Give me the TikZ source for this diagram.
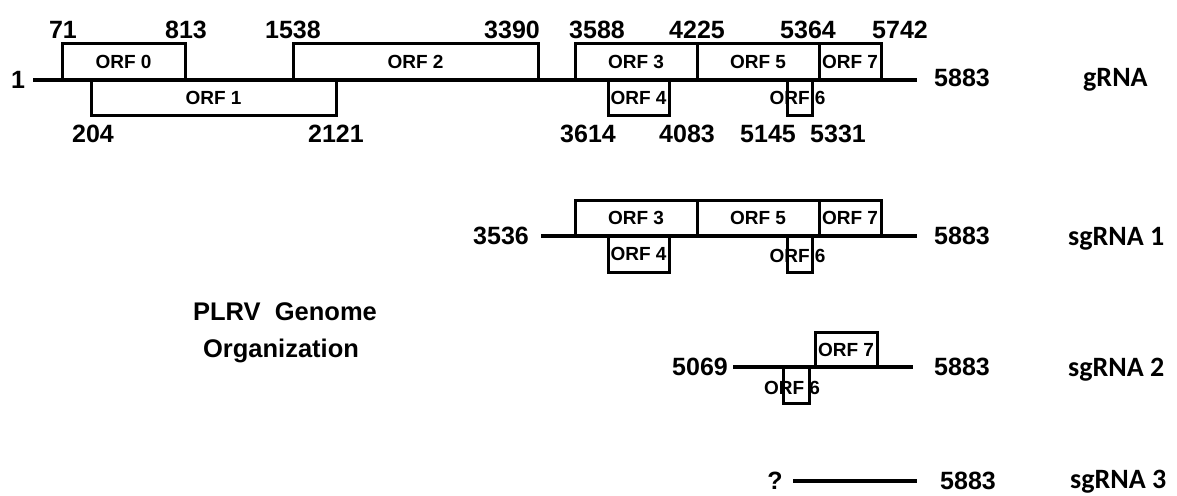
\documentclass[tikz,border=0pt]{standalone}
\usepackage{fontspec}
\setmainfont{Liberation Sans}
\newfontfamily\calibrifont{Carlito}

\begin{document}
\begin{tikzpicture}[x=1pt, y=-1pt,
    rna/.style={line width=3.2pt},
    orfbox/.style={draw, line width=3pt, inner sep=0pt, font=\fontsize{19}{19}\selectfont\bfseries},
    orflabel/.style={inner sep=0pt, font=\fontsize{19}{19}\selectfont\bfseries},
    posnum/.style={inner sep=0pt, font=\fontsize{25}{25}\selectfont\bfseries},
    rnaname/.style={inner sep=0pt, anchor=base west, font=\fontsize{28}{28}\selectfont\calibrifont\bfseries},
    title/.style={inner sep=0pt, font=\fontsize{25.5}{25.5}\selectfont\bfseries}]
    \useasboundingbox (0,0) rectangle (1177,495);

    % gRNA
    \coordinate (g0) at (33,80);
    \coordinate (g1) at (917,80);
    \draw[rna] (g0) -- (g1);
    \node[orfbox, minimum width=123pt, minimum height=36pt] (gorf0) at (123.5,62) {ORF 0};
    \node[orfbox, minimum width=245pt, minimum height=36pt] (gorf2) at (415.5,62) {ORF 2};
    \node[orfbox, minimum width=122pt, minimum height=36pt] (gorf3) at (636,62) {ORF 3};
    \node[orfbox, minimum width=122pt, minimum height=36pt] (gorf5) at (758,62) {ORF 5};
    \node[orfbox, minimum width=62pt, minimum height=36pt] (gorf7) at (850,62) {ORF 7};
    \node[orfbox, minimum width=245pt, minimum height=35pt] (gorf1) at (213.5,97.5) {ORF 1};
    \node[orfbox, minimum width=61pt, minimum height=35pt] (gorf4) at (638.5,97.5) {ORF 4};
    \node[orfbox, minimum width=25pt, minimum height=35pt,
        label={[orflabel, xshift=-2pt]center:ORF 6}] (gorf6) at (799.5,97.5) {};
    \node[posnum] (gstart) at (18,80) {1};
    \node[posnum] (gend) at (962,78) {5883};
    \node[rnaname] (gname) at (1083,86) {gRNA};
    % start and end positions
    \node[posnum] (p71) at (63,30) {71};
    \node[posnum] (p813) at (186,30) {813};
    \node[posnum] (p1538) at (293,30) {1538};
    \node[posnum] (p3390) at (512,30) {3390};
    \node[posnum] (p3588) at (597,30) {3588};
    \node[posnum] (p4225) at (697,30) {4225};
    \node[posnum] (p5364) at (808,30) {5364};
    \node[posnum] (p5742) at (900,30) {5742};
    \node[posnum] (p204) at (93,134) {204};
    \node[posnum] (p2121) at (336,134) {2121};
    \node[posnum] (p3614) at (588,134) {3614};
    \node[posnum] (p4083) at (687,134) {4083};
    \node[posnum] (p5145) at (768,134) {5145};
    \node[posnum] (p5331) at (838,134) {5331};

    % sgRNA 1
    \coordinate (s10) at (541,236);
    \coordinate (s11) at (917,236);
    \draw[rna] (s10) -- (s11);
    \node[orfbox, minimum width=122pt, minimum height=36pt] (s1orf3) at (636,218) {ORF 3};
    \node[orfbox, minimum width=122pt, minimum height=36pt] (s1orf5) at (758,218) {ORF 5};
    \node[orfbox, minimum width=62pt, minimum height=36pt] (s1orf7) at (850,218) {ORF 7};
    \node[orfbox, minimum width=61pt, minimum height=36pt] (s1orf4) at (638.5,254) {ORF 4};
    \node[orfbox, minimum width=25pt, minimum height=36pt,
        label={[orflabel, xshift=-2pt, yshift=-2pt]center:ORF 6}] (s1orf6) at (799.5,254) {};
    \node[posnum] (s1start) at (501,236) {3536};
    \node[posnum] (s1end) at (962,236) {5883};
    \node[rnaname] (s1name) at (1068,245) {sgRNA 1};

    % sgRNA 2
    \coordinate (s20) at (733,367);
    \coordinate (s21) at (913,367);
    \draw[rna] (s20) -- (s21);
    \node[orfbox, minimum width=62pt, minimum height=35pt] (s2orf7) at (846,349.5) {ORF 7};
    \node[orfbox, minimum width=26pt, minimum height=36pt,
        label={[orflabel, xshift=-4pt, yshift=-3pt]center:ORF 6}] (s2orf6) at (796,385) {};
    \node[posnum] (s2start) at (700,367) {5069};
    \node[posnum] (s2end) at (962,367) {5883};
    \node[rnaname] (s2name) at (1068,376) {sgRNA 2};

    % sgRNA 3
    \coordinate (s30) at (793,481);
    \coordinate (s31) at (917,481);
    \draw[rna] (s30) -- (s31);
    \node[posnum] (s3start) at (775,481) {?};
    \node[posnum] (s3end) at (968,481) {5883};
    \node[rnaname] (s3name) at (1070,488) {sgRNA 3};

    % title
    \node[title] (title1) at (285,312) {PLRV\ \ Genome};
    \node[title] (title2) at (281,351) {Organization};
\end{tikzpicture}
\end{document}
